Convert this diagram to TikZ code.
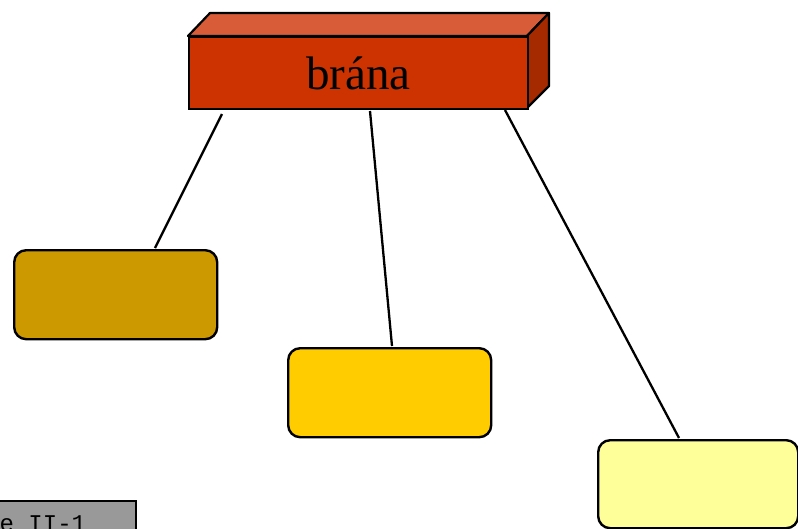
\documentclass[tikz,border=0pt]{standalone}
\usepackage{fontspec}
\setmainfont{Liberation Serif}
\newfontfamily\monofont{Liberation Mono}
\definecolor{frontc}{HTML}{CC3300}
\definecolor{topc}{HTML}{D95C38}
\definecolor{sidec}{HTML}{A52A00}
\definecolor{boxa}{HTML}{CC9900}
\definecolor{boxb}{HTML}{FFCC00}
\definecolor{boxc}{HTML}{FFFF99}
\definecolor{grayc}{HTML}{999999}
\begin{document}
\begin{tikzpicture}[x=1pt,y=-1pt,
  rbox/.style={draw=black,line width=2.4pt,rounded corners=12pt,minimum width=203pt,minimum height=89pt,inner sep=0pt},
  link/.style={draw=black,line width=2.3pt}]
\useasboundingbox (0,0) rectangle (798,528);
\clip (0,0) rectangle (798,528);
% 3D bar
\fill[topc,draw=black,line width=2.2pt,line join=round] (188,36) -- (210,13) -- (549,13) -- (527,36) -- cycle;
\fill[sidec,draw=black,line width=2.2pt,line join=round] (527,36) -- (549,13) -- (549,86) -- (527,108) -- cycle;
\node[draw=black,fill=frontc,line width=2.2pt,minimum width=339pt,minimum height=72pt,inner sep=0pt,anchor=north west,
  font=\fontsize{47}{50}\selectfont] (brana) at (188,36) {brána};
% boxes
\node[rbox,fill=boxa,anchor=north west] (b1) at (13,249) {};
\node[rbox,fill=boxb,anchor=north west] (b2) at (287,347) {};
\node[rbox,fill=boxc,anchor=north west,minimum width=200pt,minimum height=88pt] (b3) at (597,439) {};
% connectors
\coordinate (s1) at (222,114);
\coordinate (s2) at (370,111);
\coordinate (s3) at (505,110);
\coordinate (e1) at (155,248);
\coordinate (e2) at (392,346);
\coordinate (e3) at (679,438);
\draw[link] (s1) -- (e1);
\draw[link] (s2) -- (e2);
\draw[link] (s3) -- (e3);
% caption box
\node[draw=black,fill=grayc,line width=2.4pt,minimum width=145pt,minimum height=50pt,anchor=north west,inner sep=0pt] (cap) at (-10,500) {};
\node[anchor=base west,inner sep=0pt,font=\monofont\fontsize{24}{24}\selectfont] (captxt) at (-0.5,531) {e II-1};
\end{tikzpicture}
\end{document}
